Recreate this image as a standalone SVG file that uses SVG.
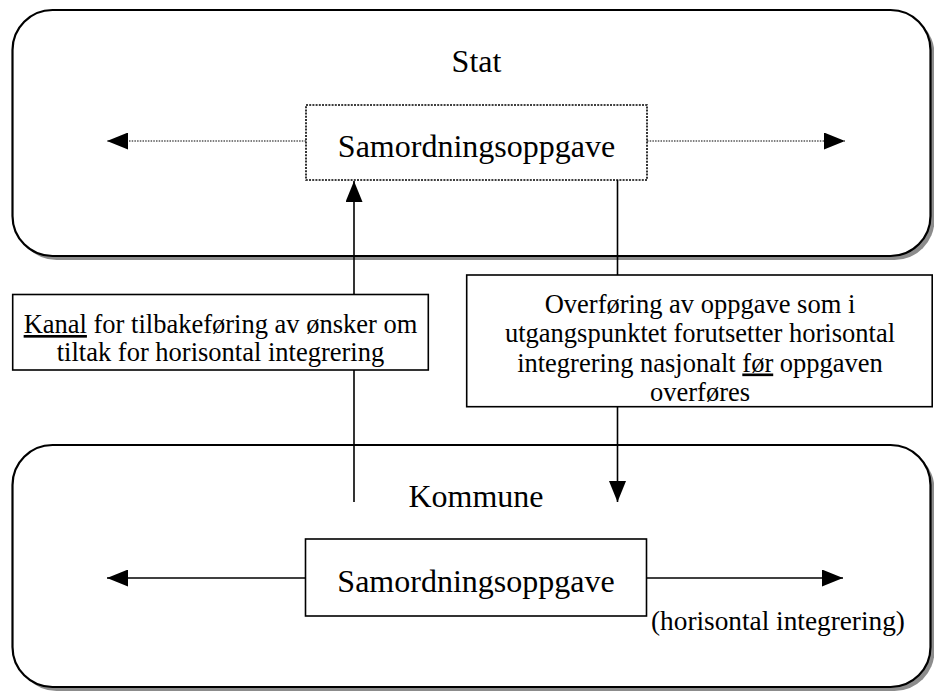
<svg xmlns="http://www.w3.org/2000/svg" width="934" height="693" viewBox="0 0 934 693">
<defs>
<style>
.t{font-family:"Liberation Serif","Times New Roman",serif;fill:#000;text-anchor:middle}
.big{font-size:32px}
.lab{font-size:26.5px}
.u{text-decoration:underline}
.frame{fill:#fff;stroke:#000;stroke-width:2.2}
.shadow{fill:#8c8c8c;stroke:none}
.box{fill:#fff;stroke:#000;stroke-width:1.6}
.dotbox{fill:#fff;stroke:#000;stroke-width:1.6;stroke-dasharray:2 1.2}
.dotline{stroke:#000;stroke-width:1.2;stroke-dasharray:1.5 1.2;fill:none}
.line{stroke:#000;stroke-width:1.6;fill:none}
</style>
<marker id="ah" markerUnits="userSpaceOnUse" markerWidth="21" markerHeight="17" refX="21" refY="8.5" orient="auto" viewBox="0 0 21 17">
<path d="M0,0 L21,8.5 L0,17 Z" fill="#000" stroke="none"/>
</marker>
</defs>

<g id="stat">
<rect class="shadow" x="16.5" y="14" width="918" height="246" rx="40" ry="40"/>
<rect class="frame" x="12.5" y="10" width="918" height="246" rx="40" ry="40"/>
<text class="t big" x="476.5" y="72">Stat</text>
</g>

<g id="kommune">
<rect class="shadow" x="16.5" y="449" width="918" height="242" rx="40" ry="40"/>
<rect class="frame" x="12.5" y="445" width="918" height="242" rx="40" ry="40"/>
<text class="t big" x="476" y="507">Kommune</text>
</g>

<g id="connectors">
<line class="dotline" x1="306" y1="141" x2="107" y2="141" marker-end="url(#ah)"/>
<line class="dotline" x1="647" y1="141" x2="845" y2="141" marker-end="url(#ah)"/>
<line class="line" x1="306" y1="578" x2="107" y2="578" marker-end="url(#ah)"/>
<line class="line" x1="646" y1="578" x2="843" y2="578" marker-end="url(#ah)"/>
<line class="line" x1="354" y1="502" x2="354" y2="181" marker-end="url(#ah)"/>
<line class="line" x1="617.5" y1="180" x2="617.5" y2="502" marker-end="url(#ah)"/>
</g>

<g id="stat-oppgave">
<rect class="dotbox" x="306" y="105" width="341" height="75"/>
<text class="t big" x="476.5" y="157">Samordningsoppgave</text>
</g>

<g id="kommune-oppgave">
<rect class="box" x="305.5" y="539" width="341" height="77"/>
<text class="t big" x="476" y="592">Samordningsoppgave</text>
</g>

<g id="kanal">
<rect class="box" x="12.7" y="294.5" width="415.6" height="75.5"/>
<text class="t lab" x="220.5" y="333"><tspan class="u">Kanal</tspan> for tilbakeføring av ønsker om</text>
<text class="t lab" x="220.5" y="361">tiltak for horisontal integrering</text>
</g>

<g id="overforing">
<rect class="box" x="466.7" y="275" width="465.5" height="131.7"/>
<text class="t lab" x="700" y="312.5">Overføring av oppgave som i</text>
<text class="t lab" x="700" y="342">utgangspunktet forutsetter horisontal</text>
<text class="t lab" x="700" y="371.5">integrering nasjonalt <tspan class="u">før</tspan> oppgaven</text>
<text class="t lab" x="700" y="401">overføres</text>
</g>

<g id="horisontal-label">
<text class="t" style="font-size:27.3px;text-anchor:start" x="651" y="630">(horisontal integrering)</text>
</g>
</svg>
